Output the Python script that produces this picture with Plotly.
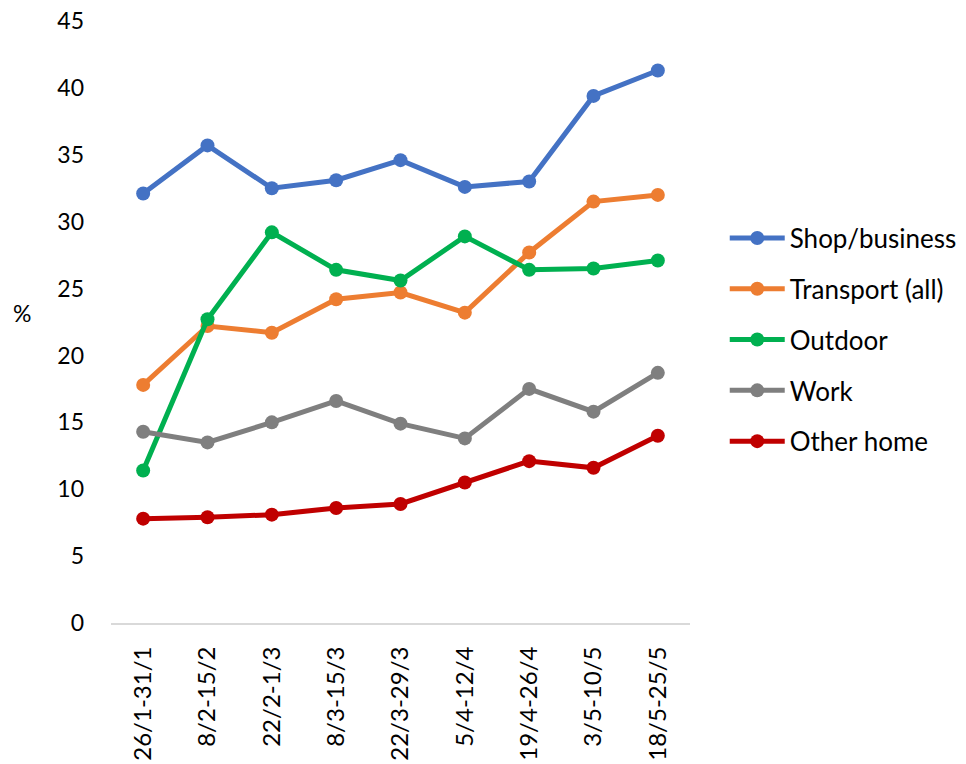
import plotly.graph_objects as go

periods = ["26/1-31/1", "8/2-15/2", "22/2-1/3", "8/3-15/3", "22/3-29/3",
           "5/4-12/4", "19/4-26/4", "3/5-10/5", "18/5-25/5"]

shop_business = [32.1, 35.7, 32.5, 33.1, 34.6, 32.6, 33.0, 39.4, 41.3]
transport_all = [17.8, 22.2, 21.7, 24.2, 24.7, 23.2, 27.7, 31.5, 32.0]
outdoor = [11.4, 22.7, 29.2, 26.4, 25.6, 28.9, 26.4, 26.5, 27.1]
work = [14.3, 13.5, 15.0, 16.6, 14.9, 13.8, 17.5, 15.8, 18.7]
other_home = [7.8, 7.9, 8.1, 8.6, 8.9, 10.5, 12.1, 11.6, 14.0]

series = [
    ("Shop/business", shop_business, "#4472C4"),
    ("Transport (all)", transport_all, "#ED7D31"),
    ("Outdoor", outdoor, "#00B050"),
    ("Work", work, "#7F7F7F"),
    ("Other home", other_home, "#C00000"),
]

FONT = "Lato, Carlito, Calibri, sans-serif"

fig = go.Figure()
for name, vals, color in series:
    fig.add_trace(go.Scatter(
        x=periods, y=vals, name=name, mode="lines+markers",
        line=dict(color=color, width=5),
        marker=dict(color=color, size=14),
        legendgroup=name,
    ))

fig.update_layout(
    width=966, height=764,
    margin=dict(l=111, r=276, t=21, b=141, autoexpand=False),
    paper_bgcolor="white", plot_bgcolor="white",
    font=dict(family=FONT, size=23, color="#000000"),
    showlegend=True,
    legend=dict(
        x=1.06, xanchor="left", y=0.47, yanchor="middle",
        font=dict(family=FONT, size=26, color="#000000"),
        tracegroupgap=14, itemwidth=55,
        bgcolor="rgba(0,0,0,0)",
    ),
    xaxis=dict(
        type="category", tickangle=-90, showgrid=False, automargin=False,
        range=[-0.5, len(periods) - 0.5],
        showline=True, linecolor="#D9D9D9", linewidth=2,
        ticks="", ticklabelstandoff=12,
        tickfont=dict(family=FONT, size=24, color="#000000"),
        fixedrange=True,
    ),
    yaxis=dict(
        range=[0, 45], tickvals=list(range(0, 46, 5)), showgrid=False,
        showline=False, zeroline=False, ticks="", automargin=False,
        ticklabelstandoff=26,
        tickfont=dict(family=FONT, size=23, color="#000000"),
        fixedrange=True,
    ),
    annotations=[dict(
        text="%", xref="paper", yref="paper", x=-0.153, y=0.515,
        xanchor="center", yanchor="middle", showarrow=False,
        font=dict(family=FONT, size=23, color="#000000"),
    )],
)

fig.write_html("out.html")
